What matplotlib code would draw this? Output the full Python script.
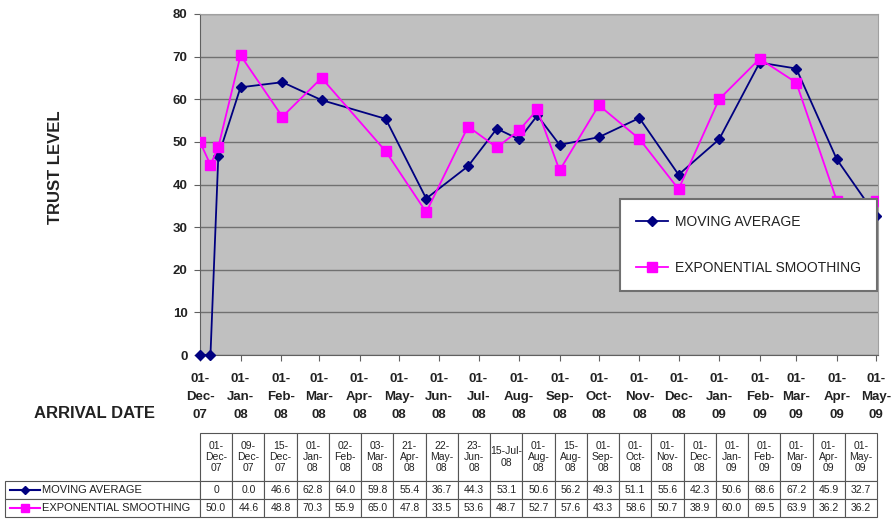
import matplotlib
matplotlib.use("Agg")
import matplotlib.pyplot as plt
import matplotlib.dates as mdates
from matplotlib.table import Table
from matplotlib.lines import Line2D
from datetime import datetime

plt.rcParams['font.family'] = ['Liberation Sans', 'DejaVu Sans']

# data
dates = ["01-Dec-07", "09-Dec-07", "15-Dec-07", "01-Jan-08", "02-Feb-08", "03-Mar-08",
         "21-Apr-08", "22-May-08", "23-Jun-08", "15-Jul-08", "01-Aug-08", "15-Aug-08",
         "01-Sep-08", "01-Oct-08", "01-Nov-08", "01-Dec-08", "01-Jan-09", "01-Feb-09",
         "01-Mar-09", "01-Apr-09", "01-May-09"]
moving_avg = [0, 0.0, 46.6, 62.8, 64.0, 59.8, 55.4, 36.7, 44.3, 53.1, 50.6, 56.2,
              49.3, 51.1, 55.6, 42.3, 50.6, 68.6, 67.2, 45.9, 32.7]
exp_smooth = [50.0, 44.6, 48.8, 70.3, 55.9, 65.0, 47.8, 33.5, 53.6, 48.7, 52.7, 57.6,
              43.3, 58.6, 50.7, 38.9, 60.0, 69.5, 63.9, 36.2, 36.2]
ma_label = "MOVING AVERAGE"
es_label = "EXPONENTIAL SMOOTHING"

x = [datetime.strptime(d, "%d-%b-%y") for d in dates]

NAVY = "#000080"
MAG = "#FF00FF"
TXT = "#222222"

W, H = 892, 520
fig = plt.figure(figsize=(W / 100, H / 100), dpi=100)

ax = fig.add_axes([200 / W, 1 - 355 / H, 678 / W, 341 / H])
ax.set_facecolor("#C0C0C0")
ax.plot(x, moving_avg, color=NAVY, lw=1.3, marker="D", ms=5.5, label=ma_label, clip_on=False, zorder=3)
ax.plot(x, exp_smooth, color=MAG, lw=1.3, marker="s", ms=7.5, label=es_label, zorder=3)

ax.set_ylim(0, 80)
ax.set_yticks(range(0, 81, 10))
ax.set_xlim(datetime(2007, 12, 1), datetime(2009, 5, 2, 12))
ax.xaxis.set_major_locator(mdates.MonthLocator(bymonthday=1))
ax.xaxis.set_major_formatter(mdates.DateFormatter("%d-\n%b-\n%y"))
ax.grid(axis="y", color="#707070", lw=1)
ax.set_axisbelow(True)
for s in ax.spines.values():
    s.set_color("#a0a0a0")
ax.spines["left"].set_color("#606060")
ax.spines["bottom"].set_color("#606060")
ax.tick_params(axis="both", direction="out", length=4, color="#606060", labelcolor=TXT)
ax.tick_params(axis="y", labelsize=9.5, pad=5)
ax.tick_params(axis="x", labelsize=9.5, pad=9)
for lab in ax.get_xticklabels() + ax.get_yticklabels():
    lab.set_fontweight("bold")
    lab.set_linespacing(1.65)

leg = ax.legend(loc="upper right", bbox_to_anchor=(877 / W, 1 - 199 / H), bbox_transform=fig.transFigure,
                fancybox=False, framealpha=1, edgecolor="#707070", fontsize=10, labelspacing=2.3,
                handlelength=2.3, handletextpad=0.5, borderpad=1.15, borderaxespad=0)
leg.get_frame().set_linewidth(1.5)
for t in leg.get_texts():
    t.set_color(TXT)

fig.text(55 / W, 1 - 167 / H, "TRUST LEVEL", rotation=90, ha="center", va="center",
         fontsize=12, fontweight="bold", color=TXT)
fig.text(95 / W, 1 - 414 / H, "ARRIVAL DATE", ha="center", va="center",
         fontsize=12, fontweight="bold", color=TXT)

# data table under the chart
tx0, tx1, ty0, ty1 = 5, 877, 433, 517
ax_t = fig.add_axes([tx0 / W, 1 - ty1 / H, (tx1 - tx0) / W, (ty1 - ty0) / H])
ax_t.axis("off")
tab = Table(ax_t, bbox=[0, 0, 1, 1])
lab_w, col_w = 195, (tx1 - 200) / len(dates)
hdr_h, row_h = 48, 18
for j, d in enumerate(dates):
    dd, mm, yy = d.split("-")
    txt = f"{dd}-{mm}-\n{yy}" if d == "15-Jul-08" else f"{dd}-\n{mm}-\n{yy}"
    c = tab.add_cell(0, j + 1, col_w, hdr_h, text=txt, loc="center")
    c.get_text().set_linespacing(1.15)
for i, vals in enumerate([moving_avg, exp_smooth]):
    tab.add_cell(i + 1, 0, lab_w, row_h, text="", loc="left")
    for j, v in enumerate(vals):
        s = "0" if (i == 0 and j == 0) else f"{v:.1f}"
        tab.add_cell(i + 1, j + 1, col_w, row_h, text=s, loc="center")
for c in tab.get_celld().values():
    c.set_edgecolor("#555555")
    c.set_linewidth(0.8)
    c.get_text().set_color(TXT)
tab.auto_set_font_size(False)
tab.set_fontsize(7.5)
ax_t.add_table(tab)

tot_h = ty1 - ty0
for i, (lbl, col, mk, ms) in enumerate([(ma_label, NAVY, "D", 4), (es_label, MAG, "s", 6)]):
    yc = 1 - (hdr_h + row_h * (i + 0.5)) / tot_h
    ax_t.add_line(Line2D([5 / 872, 35 / 872], [yc, yc], color=col, lw=1.5, transform=ax_t.transAxes))
    ax_t.add_line(Line2D([20 / 872], [yc], color=col, marker=mk, ms=ms, transform=ax_t.transAxes))
    ax_t.text(37 / 872, yc, lbl, transform=ax_t.transAxes, ha="left", va="center",
              fontsize=8, color=TXT)

fig.savefig("out.png", dpi=100)
